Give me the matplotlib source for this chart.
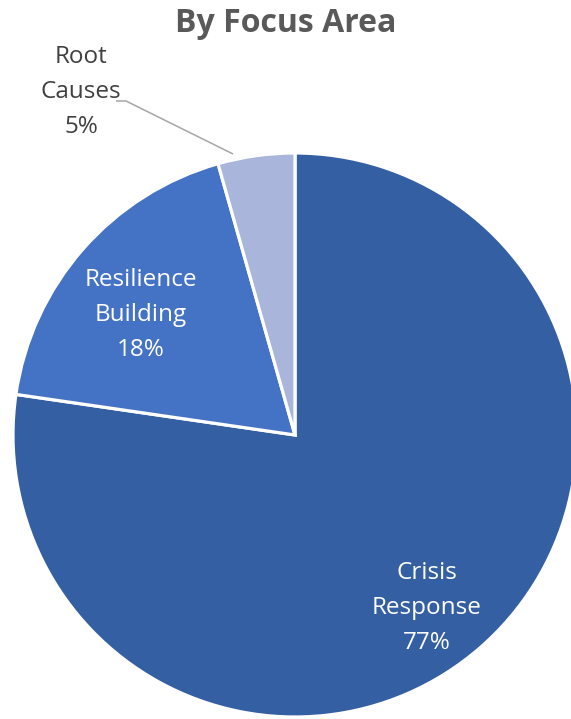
import matplotlib
matplotlib.use("Agg")
import matplotlib.pyplot as plt
import numpy as np

categories = ["Crisis\nResponse", "Resilience\nBuilding", "Root\nCauses"]
shares = [77.3, 18.3, 4.4]
pct_labels = ["77%", "18%", "5%"]
colors = ["#355FA3", "#4472C4", "#A9B5DA"]
title = "By Focus Area"

plt.rcParams['font.family'] = ['Open Sans', 'DejaVu Sans']

W, H = 571, 719
fig = plt.figure(figsize=(W / 100, H / 100), dpi=100)
cx, cy, R = 295, 435, 282  # pixel layout
ax = fig.add_axes([(cx - R) / W, (H - cy - R) / H, 2 * R / W, 2 * R / H])
ax.set_xlim(-1, 1)
ax.set_ylim(-1, 1)
ax.axis('off')

wedges, _ = ax.pie(shares, colors=colors, startangle=90, counterclock=False,
                   radius=1.0, wedgeprops=dict(edgecolor='white', linewidth=2.3))
for w in wedges:
    w.set_clip_on(False)
ax.set_xlim(-1, 1)
ax.set_ylim(-1, 1)

def px2d(px, py):
    return (px - cx) / R, (cy - py) / R

labels = [f"{c}\n{p}" for c, p in zip(categories, pct_labels)]
label_px = [(427, 608), (141, 315), (81, 92)]
label_col = ["white", "white", "#404040"]
for lab, (px, py), col in zip(labels, label_px, label_col):
    x, y = px2d(px, py)
    ax.text(x, y, lab, ha='center', va='center', fontsize=17.5, color=col,
            linespacing=1.6, clip_on=False)

line_px = [(116, 101), (126, 101), (233, 154)]
lx, ly = zip(*[px2d(*p) for p in line_px])
ax.plot(lx, ly, color="#A6A6A6", lw=1.1, clip_on=False, solid_capstyle='butt')

fig.text(286 / W, 1 - 23 / H, title, ha='center', va='center', fontsize=23,
         fontweight='bold', color="#595959")

fig.savefig("out.png", dpi=100)
